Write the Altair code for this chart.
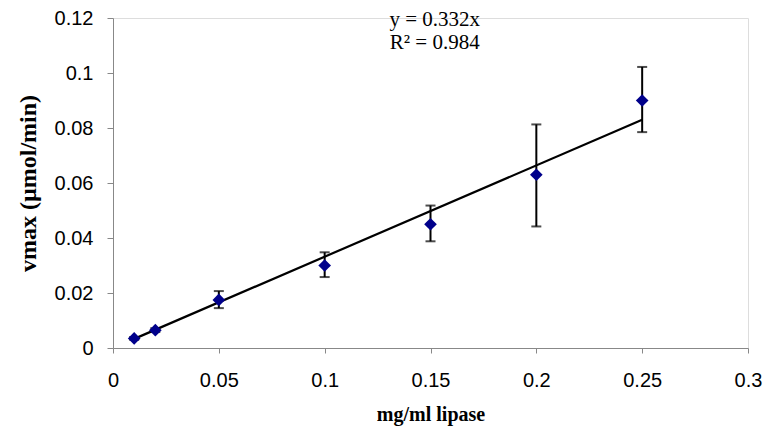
import altair as alt
import pandas as pd

conc = [0.01, 0.02, 0.05, 0.1, 0.15, 0.2, 0.25]
vmax = [0.0035, 0.0065, 0.0175, 0.030, 0.045, 0.063, 0.090]
err_lo = [0.0030, 0.0058, 0.0145, 0.0258, 0.0388, 0.0442, 0.0785]
err_hi = [0.0040, 0.0072, 0.0207, 0.0348, 0.0518, 0.0813, 0.1022]

trend_x = [0.01, 0.25]
trend_y = [0.00332, 0.083]

eq_lines = ["y = 0.332x", "R² = 0.984"]
eq_x = [0.152, 0.152]
eq_y = [0.1193, 0.1109]

df = pd.DataFrame({"x": conc, "y": vmax, "lo": err_lo, "hi": err_hi})
tdf = pd.DataFrame({"x": trend_x, "y": trend_y})
edf = pd.DataFrame({"x": eq_x, "y": eq_y, "t": eq_lines})

xs = alt.Scale(domain=[0, 0.3], nice=False, zero=True)
ys = alt.Scale(domain=[0, 0.12], nice=False)

xaxis = alt.Axis(values=[0, 0.05, 0.1, 0.15, 0.2, 0.25, 0.3], format="~g", grid=False,
                 title="mg/ml lipase", titleFont="Liberation Serif", titleFontSize=20,
                 titleFontWeight="bold", titleColor="black", titlePadding=14,
                 labelFont="Liberation Sans", labelFontSize=20, labelColor="black",
                 labelPadding=17, tickSize=5, tickColor="#888888", domainColor="#888888",
                 labelFlush=False)
yaxis = alt.Axis(values=[0, 0.02, 0.04, 0.06, 0.08, 0.1, 0.12], format="~g", grid=False,
                 title="vmax (µmol/min)", titleFont="Liberation Serif", titleFontSize=24,
                 titleFontWeight="bold", titleColor="black", titlePadding=14,
                 labelFont="Liberation Sans", labelFontSize=20, labelColor="black",
                 labelPadding=14, tickSize=6, tickColor="#888888", domainColor="#888888")

base = alt.Chart(df)

rules = base.mark_rule(color="black", strokeWidth=2).encode(
    x=alt.X("x:Q", scale=xs, axis=xaxis),
    y=alt.Y("lo:Q", scale=ys, axis=yaxis),
    y2="hi:Q",
)
cap_hi = base.mark_tick(orient="horizontal", color="black", size=10, thickness=2).encode(
    x=alt.X("x:Q", scale=xs), y=alt.Y("hi:Q", scale=ys))
cap_lo = base.mark_tick(orient="horizontal", color="black", size=10, thickness=2).encode(
    x=alt.X("x:Q", scale=xs), y=alt.Y("lo:Q", scale=ys))

trend = alt.Chart(tdf).mark_line(color="black", strokeWidth=2.2).encode(
    x=alt.X("x:Q", scale=xs), y=alt.Y("y:Q", scale=ys))

pts = base.mark_point(shape="diamond", filled=True, color="#00008B", size=160, opacity=1).encode(
    x=alt.X("x:Q", scale=xs), y=alt.Y("y:Q", scale=ys))

eq = alt.Chart(edf).mark_text(font="Liberation Serif", fontSize=21, color="black",
                               align="center", baseline="middle").encode(
    x=alt.X("x:Q", scale=xs), y=alt.Y("y:Q", scale=ys), text="t:N")

chart = alt.layer(rules, cap_hi, cap_lo, trend, pts, eq).properties(
    width=635, height=330,
    padding={"left": 113, "top": 18, "right": 20, "bottom": 87},
    autosize="none",
).configure_view(stroke=None).configure(background="white")

chart.save("out.html", embed_options={"renderer": "svg", "actions": False})
